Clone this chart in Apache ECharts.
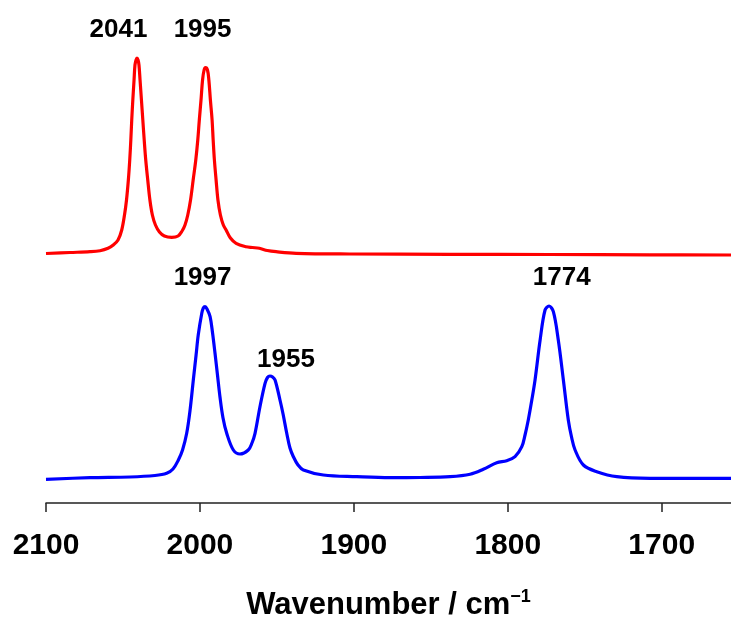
<!DOCTYPE html>
<html>
<head>
<meta charset="utf-8">
<script src="https://cdn.jsdelivr.net/npm/echarts@6/dist/echarts.min.js"></script>
<style>
html,body{margin:0;padding:0;background:#fff;}
#chart{width:731px;height:617px;}
</style>
</head>
<body>
<div id="chart"></div>
<script>
// Red spectrum: wavenumber (cm-1) and absorbance (offset, a.u.)
const redX = [2100.0,2084.4,2071.4,2064.9,2059.7,2056.3,2053.2,2050.8,2049.0,2047.7,2046.5,2045.6,2044.9,2044.3,2043.6,2042.8,2042.2,2041.5,2040.9,
  2040.2,2039.6,2038.9,2038.0,2037.1,2036.2,2035.2,2033.9,2032.5,2030.9,2028.9,2026.3,2023.1,2018.3,2014.2,2011.6,2009.7,2007.9,2006.1,2004.4,2002.7,2001.4,2000.4,1999.3,1998.3,1997.3,1996.4,
  1995.1,1994.2,1993.2,1992.1,1991.4,1990.6,1989.5,1988.3,1986.7,1984.8,1983.0,1980.2,1976.5,1970.0,1965.9,1961.4,1956.2,1950.5,1937.5,1902.9,1837.9,1772.9,1708.0,1655.0];
const redY = [2.495,2.505,2.513,2.523,2.547,2.58,2.63,2.73,2.88,3.03,3.23,3.43,3.63,3.83,4.03,4.23,4.38,4.43,4.45,
  4.43,4.38,4.23,4.03,3.83,3.63,3.43,3.23,3.03,2.88,2.78,2.71,2.67,2.657,2.67,2.72,2.78,2.88,3.03,3.23,3.43,3.63,3.83,4.03,4.23,4.33,4.353,
  4.33,4.23,4.03,3.83,3.63,3.43,3.23,3.03,2.88,2.78,2.73,2.65,2.597,2.563,2.555,2.547,2.525,2.513,2.497,2.49,2.487,2.485,2.482,2.48];

// Blue spectrum
const blueX = [2100.0,2071.4,2045.4,2029.2,2021.6,2017.5,2014.0,2011.3,2008.6,2006.4,2004.3,2002.5,2001.1,1998.8,1997.8,1996.7,1995.4,1993.4,1991.8,1990.2,1988.6,1987.0,1985.0,1982.6,1978.3,
  1974.0,1968.6,1966.2,1964.2,1961.0,1957.7,1956.1,1954.5,1952.8,1951.2,1948.0,1946.0,1943.6,1941.5,1939.3,1936.3,1932.8,1919.8,1898.1,1876.5,1857.0,1837.5,
  1824.5,1815.9,1807.2,1800.7,1795.3,1790.9,1788.8,1786.7,1784.4,1782.3,1779.0,1775.8,1773.2,1770.4,1767.2,1763.9,1760.7,1758.6,1756.3,1750.9,1742.2,1729.2,1707.6,1655.0];
const blueY = [0.237,0.253,0.26,0.275,0.297,0.34,0.43,0.53,0.697,0.93,1.23,1.48,1.68,1.897,1.95,1.963,1.94,1.863,1.70,1.497,1.28,1.063,0.85,0.697,0.53,
  0.49,0.53,0.60,0.697,0.963,1.197,1.255,1.27,1.26,1.23,1.03,0.89,0.697,0.55,0.463,0.38,0.33,0.28,0.263,0.253,0.255,0.263,
  0.287,0.337,0.403,0.423,0.463,0.563,0.68,0.83,1.03,1.23,1.63,1.93,1.97,1.913,1.63,1.23,0.83,0.66,0.53,0.38,0.313,0.263,0.247,0.247];

// Peak annotations: text, label anchor wavenumber, label anchor height
const peakText = ['2041','1995','1997','1955','1774'];
const peakLabelX = [2052.9,1998.3,1998.3,1944.1,1765.0];
const peakLabelY = [4.73,4.73,2.255,1.43,2.255];

// Axis ticks
const tickValues = [2100,2000,1900,1800,1700];
const xMin = 1655, xMax = 2100;

const zip = (xs, ys) => xs.map((x, i) => [x, ys[i]]);
const FONT = '"Liberation Sans", Arial, sans-serif';

const chart = echarts.init(document.getElementById('chart'), null, {renderer: 'canvas'});
chart.setOption({
  animation: false,
  backgroundColor: '#ffffff',
  grid: {left: 46, right: 0, top: 0, bottom: 114, containLabel: false, outerBoundsMode: 'none'},
  xAxis: {
    type: 'value', inverse: true, min: xMin, max: xMax,
    name: '{a|Wavenumber / cm}{s|\u22121}',
    nameLocation: 'middle', nameGap: 85,
    nameTextStyle: {
      rich: {
        a: {fontFamily: FONT, fontWeight: 'bold', fontSize: 31, color: '#000', lineHeight: 34},
        s: {fontFamily: FONT, fontWeight: 'bold', fontSize: 18, color: '#000', verticalAlign: 'top', lineHeight: 20}
      }
    },
    axisLine: {show: true, onZero: false, lineStyle: {color: '#222', width: 1.5}},
    axisTick: {show: true, inside: false, length: 9, customValues: tickValues, lineStyle: {color: '#222', width: 1.5}},
    axisLabel: {show: true, customValues: tickValues, margin: 28, formatter: v => String(v),
      fontFamily: FONT, fontWeight: 'bold', fontSize: 30, color: '#000'},
    splitLine: {show: false}
  },
  yAxis: {type: 'value', min: 0, max: 5.03, show: false},
  series: [
    {type: 'line', data: zip(redX, redY), showSymbol: false, smooth: 0.35, lineStyle: {color: '#ff0000', width: 3.2}, silent: true},
    {type: 'line', data: zip(blueX, blueY), showSymbol: false, smooth: 0.35, lineStyle: {color: '#0000ff', width: 3.2}, silent: true},
    {type: 'scatter', symbolSize: 0, silent: true, itemStyle: {opacity: 1},
      data: peakText.map((t, i) => ({value: [peakLabelX[i], peakLabelY[i]], name: t})),
      label: {show: true, position: 'inside', formatter: p => p.name, fontFamily: FONT, fontWeight: 'bold', fontSize: 26,
        color: '#000', opacity: 1, textBorderWidth: 0}
    }
  ]
});
</script>
</body>
</html>
